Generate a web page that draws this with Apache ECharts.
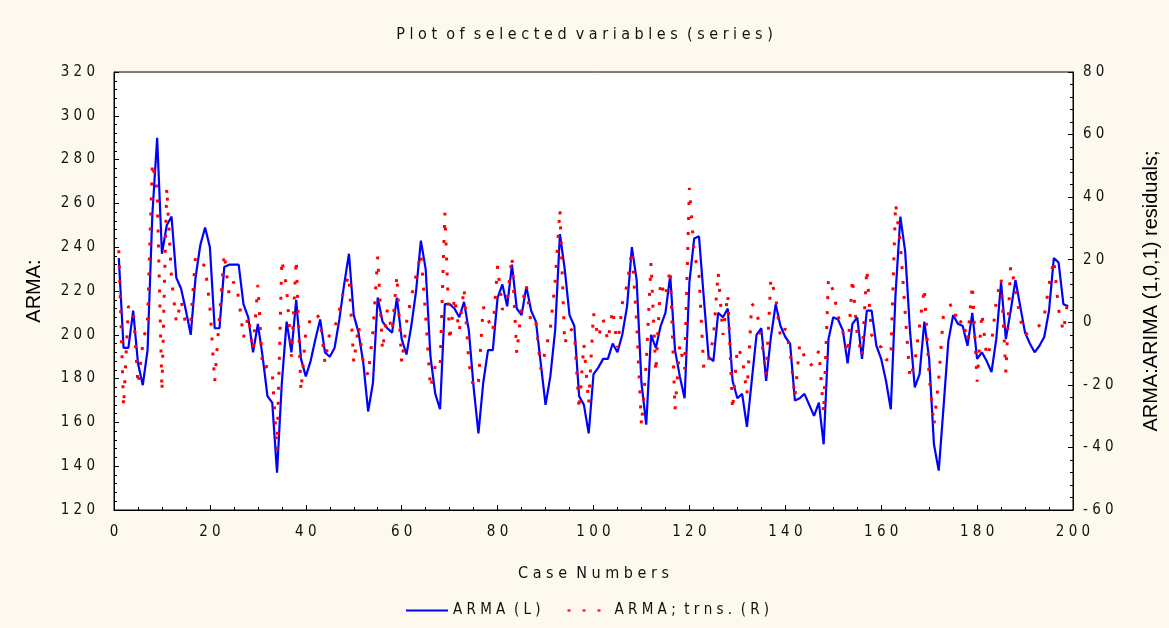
<!DOCTYPE html>
<html>
<head>
<meta charset="utf-8">
<script src="https://cdn.jsdelivr.net/npm/echarts@6/dist/echarts.min.js"></script>
<style>
html, body { margin: 0; padding: 0; background: #fdf9ee; }
#chart { width: 1169px; height: 628px; }
</style>
</head>
<body>
<div id="chart"></div>
<script>
// ARMA series (left axis), cases 1..199
var arma = [
  235, 194, 194, 211, 187, 177, 193, 255, 290, 237,
  250, 254, 226, 221, 211, 200, 226, 241, 249, 240,
  203, 203, 231, 232, 232, 232, 214, 208, 192, 205,
  190, 172, 169, 137, 178, 206, 192, 216, 189, 181,
  188, 198, 207, 192, 190, 194, 207, 223, 237, 209,
  201, 187, 165, 178, 217, 206, 203, 201, 217, 198,
  191, 204, 220, 243, 230, 190, 173, 166, 214, 214,
  212, 208, 215, 202, 176, 155, 178, 193, 193, 217,
  223, 213, 232, 212, 209, 222, 211, 206, 187, 168,
  181, 202, 246, 230, 209, 204, 172, 168, 155, 182,
  185, 189, 189, 196, 192, 200, 213, 240, 225, 178,
  159, 200, 194, 204, 210, 227, 193, 181, 171, 224,
  244, 245, 217, 190, 188, 210, 208, 212, 179, 171,
  173, 158, 179, 200, 203, 179, 199, 214, 204, 199,
  196, 170, 171, 173, 168, 163, 169, 150, 198, 208,
  207, 202, 187, 205, 208, 189, 211, 211, 195, 189,
  179, 166, 219, 254, 238, 202, 176, 182, 206, 189,
  150, 138, 167, 197, 209, 205, 204, 195, 210, 189,
  192, 188, 183, 198, 224, 198, 211, 225, 213, 201,
  196, 192, 195, 199, 211, 235, 233, 214, 213
];

// ARIMA (1,0,1) residuals (right axis)
var resid = [
  23, -27, 5, 5, -20, -7, 1, 51, 42, -22,
  43, 14, 0, 7, -1, 0, 21, 19, 18, 5,
  -19, 2, 22, 9, 13, 8, -5, 2, -9, 12,
  -15, -14, -16, -41, 20, 11, -11, 20, -22, -3,
  1, 3, 1, -13, -3, -2, 4, 11, 15, -13,
  -1, -13, -17, -3, 21, -9, 4, -3, 15, -13,
  0, 8, 15, 22, 2, -21, -14, -15, 35, -6,
  8, -3, 11, -13, -21, -19, 5, 1, -3, 18,
  4, 7, 21, -10, 5, 12, -1, 0, -15, -9,
  -2, 13, 36, -7, -2, -3, -28, -7, -26, 3,
  -5, 1, -6, 4, -8, 6, 12, 23, 0, -33,
  -13, 19, -16, 13, 8, 17, -28, -7, -15, 43,
  22, 15, -15, -12, -5, 16, -4, 9, -28, -8,
  -11, -23, 6, 4, -5, -17, 14, 8, -5, -2,
  -9, -24, -7, -11, -14, -13, -9, -29, 14, 10,
  2, -3, -10, 14, -4, -11, 17, -4, -7, -8,
  -12, -12, 38, 25, 3, -18, -13, -1, 11, -17,
  -33, -18, 3, 5, 6, -1, 1, -6, 12, -19,
  3, -11, -7, 7, 14, -16, 18, 11, 1, -4,
  -3, -2, -1, 2, 12, 20, 4, -3, 8
];

var titleText = 'Plot of selected variables (series)';
var xName = 'Case Numbers';
var leftName = 'ARMA:';
var rightName = 'ARMA:ARIMA (1,0,1) residuals;';
var seriesNames = ['ARMA (L)', 'ARMA; trns. (R)'];

var NARROW = "'Liberation Sans Narrow', 'DejaVu Sans Condensed', 'Arial Narrow', sans-serif";

// the old plotting program spreads its letters out
function spaced(s) {
  return s.split(' ').map(function (w) { return w.split('').join(' '); }).join('  ');
}

function pairs(vals) {
  return vals.map(function (v, i) { return [i + 1, v]; });
}

var chart = echarts.init(document.getElementById('chart'));

var tickLabel = {
  color: '#111',
  fontFamily: NARROW,
  fontSize: 15,
  formatter: function (v) { return spaced(String(v)); }
};

chart.setOption({
  backgroundColor: '#fdf9ee',
  animation: false,
  title: {
    text: spaced(titleText),
    left: 'center',
    top: 22,
    textStyle: { color: '#111', fontFamily: NARROW, fontSize: 16, fontWeight: 'normal' }
  },
  legend: {
    data: seriesNames,
    left: 400,
    top: 598,
    itemWidth: 42,
    itemHeight: 14,
    itemGap: 26,
    itemStyle: { opacity: 0 },
    formatter: function (n) { return spaced(n); },
    textStyle: { color: '#111', fontFamily: NARROW, fontSize: 15 }
  },
  grid: {
    left: 114, right: 96, top: 72, bottom: 118,
    show: true, backgroundColor: '#fff', borderColor: '#000', borderWidth: 1
  },
  xAxis: {
    type: 'value', min: 0, max: 200, interval: 20,
    name: spaced(xName), nameLocation: 'middle', nameGap: 56,
    nameTextStyle: { color: '#111', fontFamily: NARROW, fontSize: 16 },
    axisLine: { onZero: false, lineStyle: { color: '#000' } },
    axisTick: { inside: true, length: 5, lineStyle: { color: '#000' } },
    minorTick: { show: true, splitNumber: 4, length: 3, lineStyle: { color: '#000' } },
    splitLine: { show: false },
    axisLabel: Object.assign({ margin: 15 }, tickLabel)
  },
  yAxis: [{
    type: 'value', min: 120, max: 320, interval: 20, position: 'left',
    name: leftName, nameLocation: 'middle', nameRotate: 90, nameGap: 70,
    nameTextStyle: { color: '#000', fontFamily: 'Liberation Sans, Arial, sans-serif', fontSize: 20 },
    axisLine: { show: true, onZero: false, lineStyle: { color: '#000' } },
    axisTick: { inside: true, length: 5, lineStyle: { color: '#000' } },
    minorTick: { show: true, splitNumber: 5, length: 3, lineStyle: { color: '#000' } },
    splitLine: { show: false },
    axisLabel: Object.assign({ margin: 19 }, tickLabel)
  }, {
    type: 'value', min: -60, max: 80, interval: 20, position: 'right',
    name: rightName, nameLocation: 'middle', nameRotate: 90, nameGap: 68,
    nameTextStyle: { color: '#000', fontFamily: 'Liberation Sans, Arial, sans-serif', fontSize: 20 },
    axisLine: { show: true, onZero: false, lineStyle: { color: '#000' } },
    axisTick: { inside: true, length: 5, lineStyle: { color: '#000' } },
    minorTick: { show: true, splitNumber: 5, length: 3, lineStyle: { color: '#000' } },
    splitLine: { show: false },
    axisLabel: Object.assign({ margin: 10 }, tickLabel)
  }],
  series: [{
    name: seriesNames[0],
    type: 'line',
    yAxisIndex: 0,
    data: pairs(arma),
    symbol: 'none',
    lineStyle: { color: '#0000ff', width: 2.2 },
    itemStyle: { color: '#0000ff' }
  }, {
    name: seriesNames[1],
    type: 'line',
    yAxisIndex: 1,
    data: pairs(resid),
    symbol: 'none',
    lineStyle: { color: '#ff0000', width: 3, type: [3, 12], cap: 'butt' },
    itemStyle: { color: '#ff0000' }
  }]
});
</script>
</body>
</html>
